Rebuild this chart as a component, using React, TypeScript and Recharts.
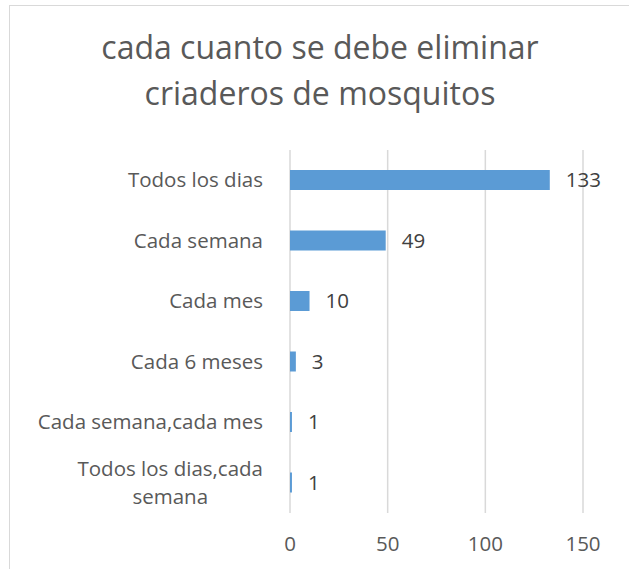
import { BarChart, Bar, XAxis, YAxis, CartesianGrid, LabelList } from 'recharts'

const TITLE = ['cada cuanto se debe eliminar', 'criaderos de mosquitos']

const categories = [
  'Todos los dias',
  'Cada semana',
  'Cada mes',
  'Cada 6 meses',
  'Cada semana,cada mes',
  'Todos los dias,cada semana',
]
const counts = [133, 49, 10, 3, 1, 1]
const xTicks = [0, 50, 100, 150]

const FONT = '"Open Sans", sans-serif'
const LABEL_SIZE = 20.5
const GRAY = '#595959'

const data = categories.map((name, i) => ({ name, value: counts[i] }))

// split long labels into lines, like Excel does
function wrap(text: string, maxChars = 20) {
  if (text.length <= maxChars) return [text]
  const words = text.split(' ')
  const lines: string[] = []
  let cur = ''
  for (const w of words) {
    const next = cur ? cur + ' ' + w : w
    if (next.length > maxChars && cur) {
      lines.push(cur)
      cur = w
    } else cur = next
  }
  if (cur) lines.push(cur)
  return lines
}

let ctx: CanvasRenderingContext2D | null = null
function measure(t: string) {
  if (!ctx) ctx = document.createElement('canvas').getContext('2d')
  if (!ctx) return t.length * LABEL_SIZE * 0.5
  ctx.font = `${LABEL_SIZE}px "Open Sans"`
  return ctx.measureText(t).width
}

function CategoryTick(props: any) {
  const { x, y, payload } = props
  const lines = wrap(String(payload.value))
  const widths = lines.map(measure)
  const maxW = Math.max(...widths)
  const lh = 28
  const y0 = y - ((lines.length - 1) * lh) / 2
  return (
    <g>
      {lines.map((l, i) => (
        <text
          key={i}
          x={x - (maxW - widths[i]) / 2}
          y={y0 + i * lh}
          dy="0.35em"
          textAnchor="end"
          fill={GRAY}
          fontSize={LABEL_SIZE}
          fontFamily={FONT}
        >
          {l}
        </text>
      ))}
    </g>
  )
}

export default function App() {
  return (
    <div
      style={{
        position: 'absolute',
        left: 0,
        top: 0,
        width: 629,
        height: 569,
        overflow: 'hidden',
        background: '#fff',
        fontFamily: FONT,
      }}
    >
      <div
        style={{
          position: 'absolute',
          left: 9,
          top: 5,
          width: 700,
          height: 700,
          border: '1px solid #d9d9d9',
        }}
      />
      <div
        style={{
          position: 'absolute',
          left: 9,
          top: 24,
          width: 622,
          textAlign: 'center',
          fontSize: 32,
          lineHeight: '46px',
          color: GRAY,
        }}
      >
        {TITLE.map((t) => (
          <div key={t}>{t}</div>
        ))}
      </div>
      <div style={{ position: 'absolute', left: 0, top: 0 }}>
        <BarChart
          width={629}
          height={569}
          data={data}
          layout="vertical"
          margin={{ top: 150, right: 46, bottom: 26, left: 0 }}
          barSize={20}
        >
          <CartesianGrid horizontal={false} stroke="#d9d9d9" strokeWidth={1.5} />
          <XAxis
            type="number"
            domain={[0, 150]}
            ticks={xTicks}
            axisLine={false}
            tickLine={false}
            tickSize={0}
            tickMargin={23}
            height={30}
            tick={{ fill: GRAY, fontSize: LABEL_SIZE, fontFamily: FONT }}
          />
          <YAxis
            type="category"
            dataKey="name"
            width={290}
            axisLine={false}
            tickLine={false}
            tickSize={0}
            tickMargin={27}
            interval={0}
            tick={<CategoryTick />}
          />
          <Bar dataKey="value" fill="#5b9bd5" isAnimationActive={false}>
            <LabelList
              dataKey="value"
              position="right"
              offset={16}
              fill="#404040"
              fontSize={LABEL_SIZE}
              fontFamily={FONT}
            />
          </Bar>
        </BarChart>
      </div>
    </div>
  )
}
